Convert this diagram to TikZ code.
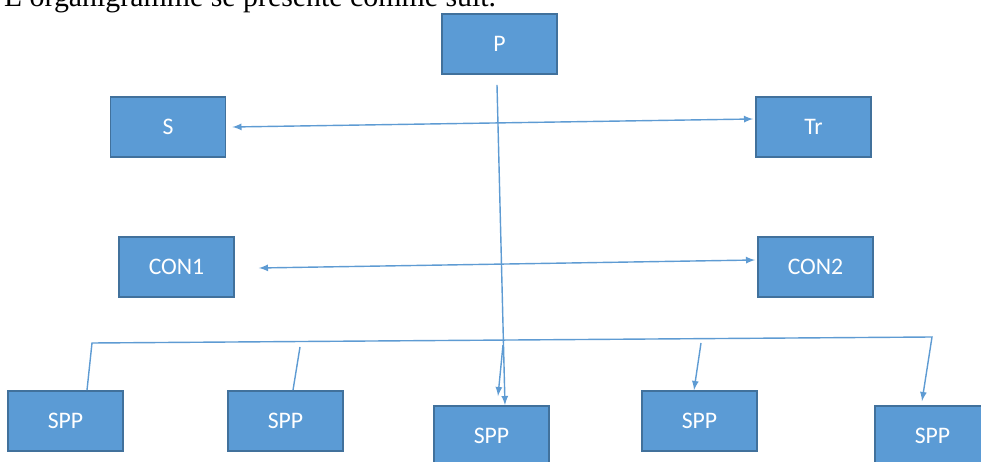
\documentclass[tikz,border=0pt]{standalone}
\usepackage{fontspec}
\setmainfont{Liberation Serif}
\newfontfamily\boxfont{Carlito}
\definecolor{boxblue}{HTML}{5B9BD5}
\definecolor{boxedge}{HTML}{41719C}
\definecolor{linkblue}{HTML}{5E9BD3}
\begin{document}
\begin{tikzpicture}[x=0.02cm,y=-0.02cm,
    unit/.style={draw=boxedge,line width=1pt,fill=boxblue,minimum width=2.3cm,
        minimum height=1.2cm,text=white,font=\boxfont\fontsize{13.5}{16}\selectfont},
    link/.style={linkblue,line width=0.8pt}]
    \useasboundingbox (0,0) rectangle (981,462);

    \node[anchor=base west,font=\fontsize{17}{20}\selectfont] (title) at (-2,7)
    {L'organigramme se présente comme suit.};

    \node[unit] (p) at (499.5,44) {P};
    \node[unit] (s) at (168,127) {S};
    \node[unit] (tr) at (813.5,127) {Tr};
    \node[unit] (con1) at (176.5,267) {CON1};
    \node[unit] (con2) at (815.5,267) {CON2};
    \node[unit] (spp1) at (65.5,421) {SPP};
    \node[unit] (spp2) at (285.5,421) {SPP};
    \node[unit] (spp3) at (491.5,436) {SPP};
    \node[unit] (spp4) at (699.5,421) {SPP};
    \node[unit] (spp5) at (932.5,436) {SPP};

    \coordinate (bus west) at (92,343);
    \coordinate (bus east) at (932,337);
    \coordinate (drop2) at (300,347);
    \coordinate (drop3) at (503,345);
    \coordinate (drop4) at (701,343);

    \draw[link,latex-latex] ([shift={(6,0)}]s.east) -- ([shift={(-2,-8)}]tr.west);
    \draw[link,latex-latex] ([shift={(24,1)}]con1.east) -- ([shift={(-2,-7)}]con2.west);

    \draw[link,-latex] ([shift={(-2.5,10)}]p.south) -- ([shift={(13.5,0)}]spp3.north);

    \draw[link,-latex] ([shift={(21.5,0)}]spp1.north) -- (bus west) -- (bus east)
    -- ([shift={(-10.5,-4)}]spp5.north);
    \draw[link] (drop2) -- ([shift={(7.5,0)}]spp2.north);
    \draw[link,-latex] (drop3) -- ([shift={(6.5,-9)}]spp3.north);
    \draw[link,-latex] (drop4) -- ([shift={(-5.5,0)}]spp4.north);
\end{tikzpicture}
\end{document}
